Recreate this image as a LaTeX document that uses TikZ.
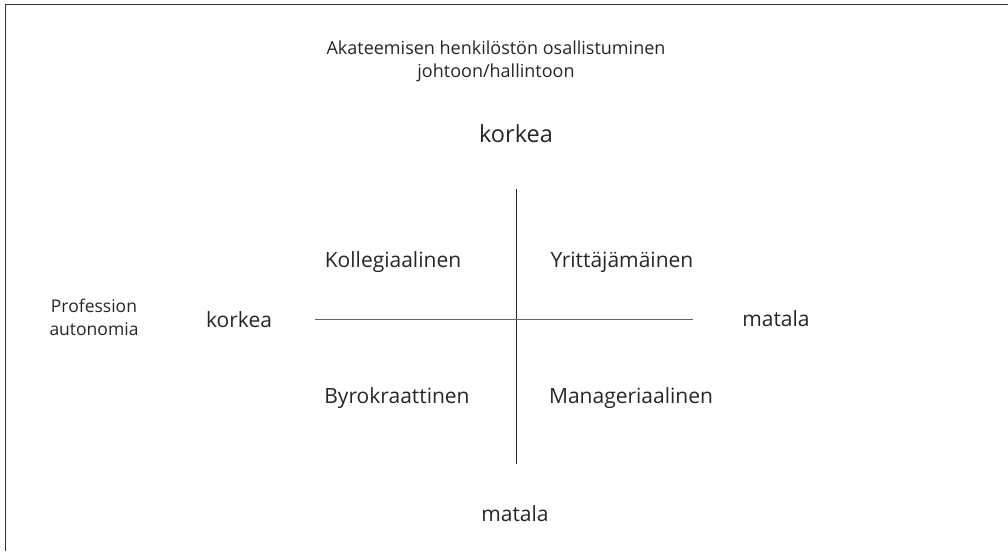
\documentclass[tikz,border=0pt]{standalone}
\usepackage{fontspec}
\setmainfont{Open Sans}
\usetikzlibrary{calc}

\begin{document}
\begin{tikzpicture}[x=1pt,y=-1pt,line width=1pt]

  \tikzset{
    quad/.style={font=\fontsize{21}{25}\selectfont,text=black!85},
    axislabel/.style={font=\fontsize{21}{25}\selectfont,text=black!85},
    title/.style={font=\fontsize{18}{23}\selectfont,text=black!85,align=center},
  }

  \useasboundingbox (0,0) rectangle (1008,551);

  % frame, open to right and bottom
  \draw[black!80,line width=1.5pt] (5.5,551) -- (5.5,4.5) -- (1008,4.5);

  \def\cx{516}
  \def\cy{319}

  \coordinate (top) at (\cx,189);
  \coordinate (bottom) at (\cx,464);
  \coordinate (left) at (315,\cy);
  \coordinate (right) at (693,\cy);

  \draw[black!85] (top) -- (bottom);
  \draw[black!60] (left) -- (right);

  \node[title] (otsikko) at (496,61) {Akateemisen henkilöstön osallistuminen\\johtoon/hallintoon};
  \node[axislabel,font=\fontsize{23.5}{27}\selectfont] (ylakorkea) at (516,134) {korkea};
  \node[axislabel] (alamatala) at (515,514) {matala};
  \node[axislabel] (vasenkorkea) at (239,320) {korkea};
  \node[axislabel] (oikeamatala) at (776,319) {matala};
  \node[title,font=\fontsize{17.5}{23}\selectfont] (profession) at (94,317) {Profession\\autonomia};

  \node[quad] (kollegiaalinen) at (393,262) {Kollegiaalinen};
  \node[quad] (yrittajamainen) at (622,262) {Yrittäjämäinen};
  \node[quad] (byrokraattinen) at (397,398) {Byrokraattinen};
  \node[quad] (manageriaalinen) at (631,398) {Manageriaalinen};

\end{tikzpicture}
\end{document}
